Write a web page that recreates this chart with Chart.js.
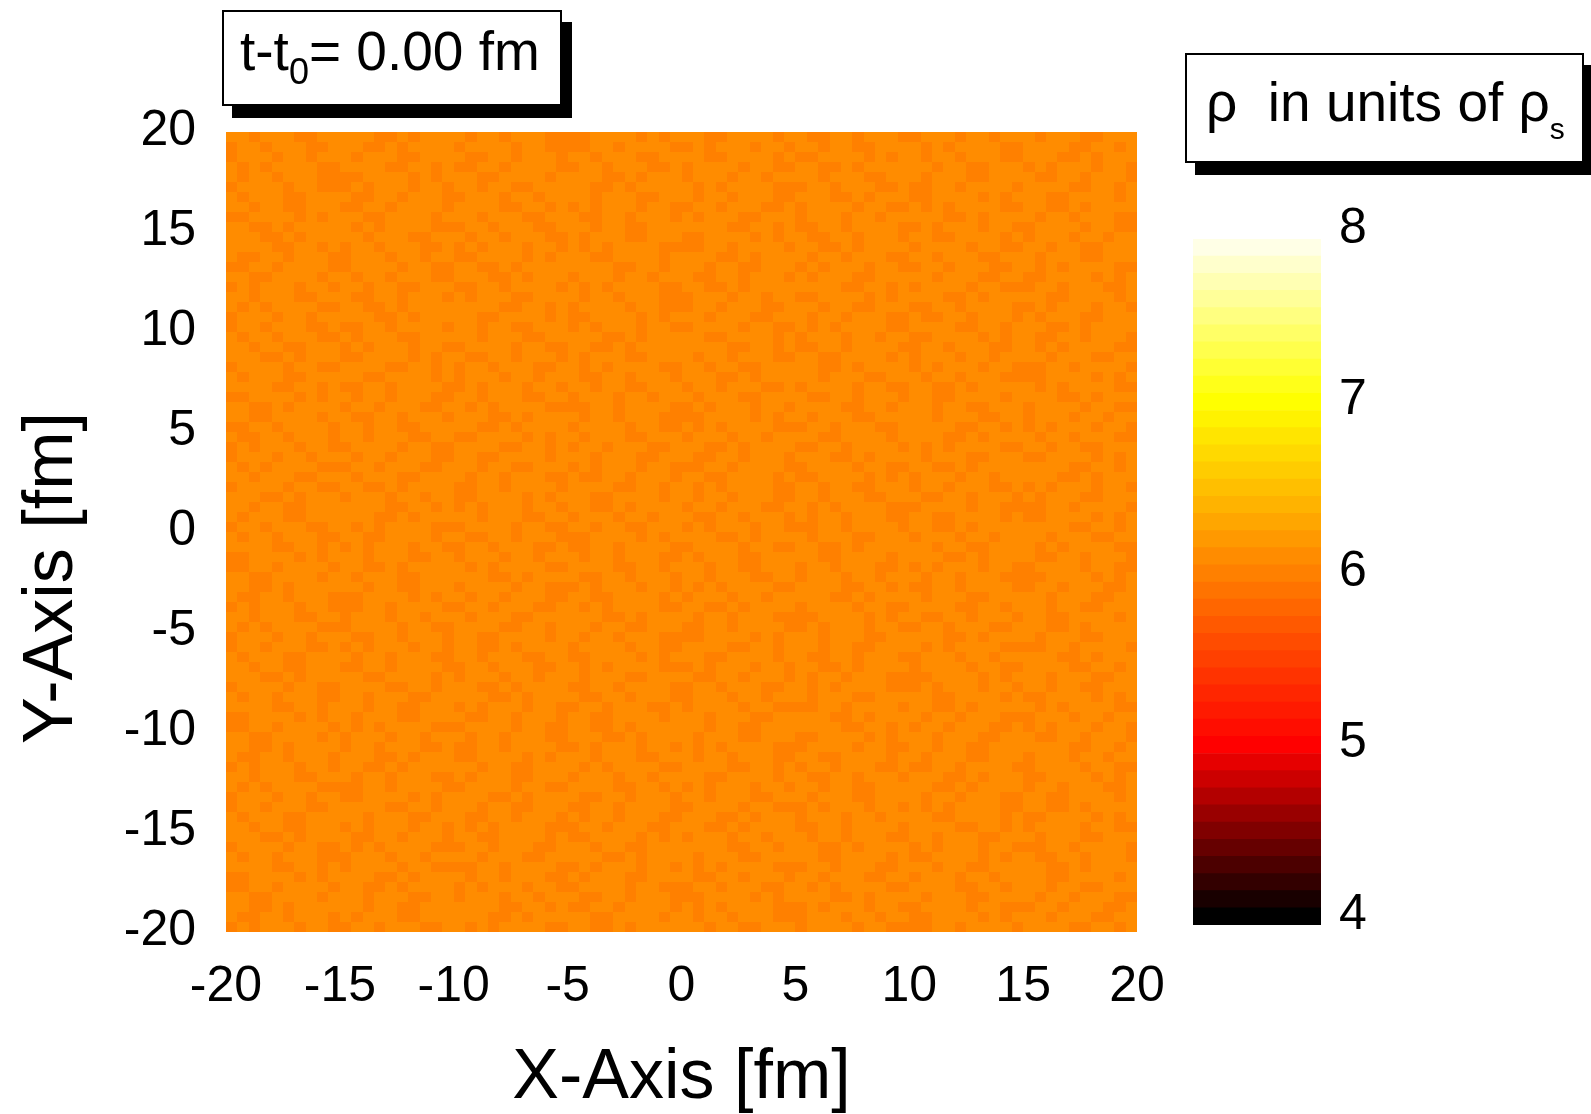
<!DOCTYPE html>
<html>
<head>
<meta charset="utf-8">
<title>rho density map</title>
<script src="https://cdn.jsdelivr.net/npm/chart.js@4.4.1/dist/chart.umd.min.js"></script>
<style>
    body {
        margin: 0;
        width: 1591px;
        height: 1114px;
        overflow: hidden;
        position: relative;
        background: #fff;
        font-family: "Liberation Sans", Arial, sans-serif;
        color: #000;
    }
    #mainChart { position: absolute; left: 0; top: 0; }
    #barChart { position: absolute; left: 1193px; top: 180px; }
    .box {
        position: absolute;
        background: #fff;
        border: 2px solid #000;
        box-shadow: 10px 12px 0 #000;
        box-sizing: border-box;
        white-space: nowrap;
        font-size: 55px;
        line-height: 55px;
    }
    .box sub { line-height: 0; }
    #timeBox sub { font-size: 36px; vertical-align: -14px; }
    #unitBox sub { font-size: 30px; vertical-align: -18px; }
    #timeBox { left: 222px; top: 10px; width: 340px; height: 96px; padding: 12px 0 0 16px; }
    #unitBox { left: 1185px; top: 53px; width: 399px; height: 110px; padding: 20px 0 0 19px; }
</style>
</head>
<body>
<canvas id="mainChart" width="1591" height="1114"></canvas>
<canvas id="barChart" width="220" height="793"></canvas>
<div class="box" id="timeBox">t-t<sub>0</sub>= 0.00 fm</div>
<div class="box" id="unitBox">ρ&nbsp; in units of ρ<sub>s</sub></div>

<script>
// axis ranges (fm) and colour bar range (rho / rho_s)
const xRange = [-20, 20];
const yRange = [-20, 20];
const rhoRange = [4, 8];
const tickStep = 5;

// density levels seen in the map: darker speckle and main orange
const rhoLevels = [6.04, 6.13];

// speckle texture, written as 10-cell blocks (0 = darker, 1 = main level)
const rhoBlocks = {
    A: '1101110011', B: '0111101100', C: '1100111101', D: '1011100111',
    E: '0011011110', F: '1110010111', G: '0110111001', H: '1001101110',
    I: '1111001101', J: '0101110110', K: '1011011100', L: '1100101111',
    M: '0111011011', N: '1010111100', O: '1101100111', P: '0011110101'
};

// one entry per row, top row first
const rhoRowCodes = [
    'AFKPCHMD', 'GLBEJONI', 'MDHACPKF', 'NIEGBLOJ', 'KPCFMADH', 'BJOLNGEI', 'DHMAKFPC', 'OEIJGBNL',
    'PCAHDMFK', 'LNGOIEJB', 'FAKDPHCM', 'IGJNELBO', 'HMPCFKAD', 'EBLIOJGN', 'CKFMHDAP', 'JOENLIBG',
    'AHDKMPFC', 'NLIBGOEJ', 'MFCPAKHD', 'GEOJBNIL', 'KDAFCMPH', 'OJBLIEGN', 'FPHDKCMA', 'BIGNOLJE',
    'DCMHFAKP', 'IEJOGBLN', 'PKAMDHCF', 'LGNEJIOB', 'CHFKPDAM', 'EOLBNGIJ', 'HAPDMCFK', 'JBIGLENO',
    'MKCAHFDP', 'NGOJEBLI', 'ADKHCPMF', 'BLEINOGJ', 'FMPCKAHD', 'OIJLGNBE', 'DFAMHKCP', 'GNBOJELI',
    'KCHPFDMA', 'IJGEBLON', 'PAMKDCFH', 'ELNIOGJB', 'CDFHAMKP', 'LOBJNIEG', 'HPKCMFDA', 'JEGNLBIO',
    'AMDFKPHC', 'NBIOEJGL', 'MHCKPAFD', 'GJLBIONE', 'DKAPCHMF', 'OEGNJLBI', 'FCMDHKPA', 'BILEGNJO',
    'KAFHMDCP', 'IOJGBELN', 'PDHCAFKM', 'ENBLOIGJ', 'CMKFDPAH', 'LGEJNBOI', 'HFPAKCDM', 'JLONIGEB',
    'AKDMCHFP', 'NEBIJOLG', 'MPFHADKC', 'GIOEBJNL', 'DAHKFMCP', 'OJNGLEIB', 'FHCPMKAD', 'BNGOILJE',
    'KMAFDCPH', 'IBEJNGOL', 'PFKDHAMC', 'ELJBGNIO', 'CAMHPFDK', 'LOIENJBG', 'HDFCKMPA', 'JGNLOBEI'
];

const rhoRows = rhoRowCodes.map(code => code.split('').map(k => rhoBlocks[k]).join(''));

const tickFont = { family: '"Liberation Sans", Arial, sans-serif', size: 50 };

// "hot" colour map in 0.1 steps: red 4->5, green 5->7, blue 7->8
function hotColor(v) {
    const band = Math.floor((v - rhoRange[0]) * 10 + 1e-6) / 10 + rhoRange[0];
    const clamp = t => Math.max(0, Math.min(1, t));
    const r = Math.round(255 * clamp(band - 4));
    const g = Math.round(255 * clamp((band - 5) / 2));
    const b = Math.round(255 * clamp(band - 7));
    return `rgb(${r}, ${g}, ${b})`;
}

// Draw the density cells using the chart's scales
const heatmapPlugin = {
    id: 'heatmap',
    beforeDatasetsDraw(chart) {
        const { ctx } = chart;
        const xs = chart.scales.x;
        const ys = chart.scales.y;
        const dy = (yRange[1] - yRange[0]) / rhoRows.length;
        ctx.save();
        rhoRows.forEach((row, r) => {
            const dx = (xRange[1] - xRange[0]) / row.length;
            const py0 = Math.round(ys.getPixelForValue(yRange[1] - r * dy));
            const py1 = Math.round(ys.getPixelForValue(yRange[1] - (r + 1) * dy));
            for (let c = 0; c < row.length; c++) {
                const px0 = Math.round(xs.getPixelForValue(xRange[0] + c * dx));
                const px1 = Math.round(xs.getPixelForValue(xRange[0] + (c + 1) * dx));
                ctx.fillStyle = hotColor(rhoLevels[+row[c]]);
                ctx.fillRect(px0, py0, px1 - px0, py1 - py0);
            }
        });
        ctx.restore();
    }
};

// Axis titles (the y title sits lower than the axis centre in the original)
const axisTitlePlugin = {
    id: 'axisTitles',
    afterDraw(chart) {
        const { ctx, chartArea } = chart;
        ctx.save();
        ctx.fillStyle = '#000';
        ctx.font = '70px "Liberation Sans", Arial, sans-serif';
        ctx.textAlign = 'center';
        ctx.textBaseline = 'alphabetic';
        ctx.fillText('X-Axis [fm]', (chartArea.left + chartArea.right) / 2, 1098);
        ctx.translate(72, 578);
        ctx.rotate(-Math.PI / 2);
        ctx.fillText('Y-Axis [fm]', 0, 0);
        ctx.restore();
    }
};

new Chart(document.getElementById('mainChart').getContext('2d'), {
    type: 'scatter',
    data: { datasets: [{ label: 'rho', data: [] }] },
    options: {
        responsive: false,
        animation: false,
        layout: { padding: { left: 0, top: 132, right: 454, bottom: 0 } },
        plugins: { legend: { display: false }, tooltip: { enabled: false } },
        scales: {
            x: {
                type: 'linear',
                min: xRange[0],
                max: xRange[1],
                grid: { display: false, drawTicks: false },
                border: { display: false },
                ticks: { stepSize: tickStep, font: tickFont, color: '#000', padding: 25, maxRotation: 0, autoSkip: false },
                afterFit: scale => { scale.height = 182; }
            },
            y: {
                type: 'linear',
                min: yRange[0],
                max: yRange[1],
                grid: { display: false, drawTicks: false },
                border: { display: false },
                ticks: { stepSize: tickStep, font: tickFont, color: '#000', padding: 30, labelOffset: -1, autoSkip: false },
                afterFit: scale => { scale.width = 226; }
            }
        }
    },
    plugins: [heatmapPlugin, axisTitlePlugin]
});

// Colour bar: one floating bar per 0.1 band
const bandEdges = [];
for (let i = 0; i < 40; i++) bandEdges.push(rhoRange[0] + i / 10);

new Chart(document.getElementById('barChart').getContext('2d'), {
    type: 'bar',
    data: {
        labels: ['rho'],
        datasets: bandEdges.map(lo => ({
            label: lo.toFixed(1),
            data: [[lo, lo + 0.1]],
            backgroundColor: hotColor(lo + 0.05),
            borderWidth: 0,
            barPercentage: 1,
            categoryPercentage: 1,
            grouped: false
        }))
    },
    options: {
        responsive: false,
        animation: false,
        layout: { padding: { left: 0, top: 59, right: 0, bottom: 36 } },
        plugins: { legend: { display: false }, tooltip: { enabled: false } },
        scales: {
            x: { display: false },
            y: {
                position: 'right',
                min: rhoRange[0],
                max: rhoRange[1],
                grid: { display: false, drawTicks: false },
                border: { display: false },
                ticks: { stepSize: 1, font: tickFont, color: '#000', padding: 18, labelOffset: -10 },
                afterFit: scale => { scale.width = 92; }
            }
        }
    }
});
</script>
</body>
</html>
